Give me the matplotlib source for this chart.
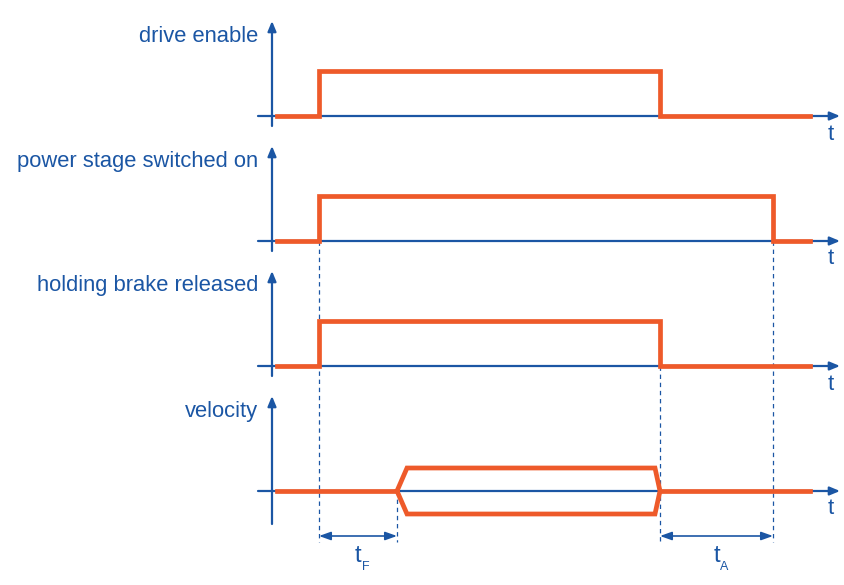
import matplotlib
matplotlib.use("Agg")
import matplotlib.pyplot as plt

ORANGE = "#EE5A2A"
BLUE = "#1B56A4"

# signal names and switching times (x in figure pixels)
labels = ["drive enable", "power stage switched on", "holding brake released", "velocity"]
baselines = [116, 241, 366, 491]
t_start, t_end = 277, 810
t_on = 319
t_off = [660, 773, 660]
t_vel = [397, 407, 655, 660]
vel_amp = 23
high = 45

# dimension markers: (from, to, label)
dims = [(319, 397, "F"), (660, 773, "A")]
guides = [(319, 241), (397, 491), (660, 366), (773, 241)]

plt.rcParams["font.family"] = ["Liberation Sans", "DejaVu Sans"]

fig = plt.figure(figsize=(8.44, 5.85), dpi=100)
ax = fig.add_axes([0, 0, 1, 1])
ax.set_xlim(0, 844)
ax.set_ylim(585, 0)
ax.axis("off")

line_kw = dict(color=ORANGE, lw=3.4, solid_joinstyle="miter", zorder=5)

for i, (name, y0) in enumerate(zip(labels, baselines)):
    # axes
    bottom = y0 + 33 if i == 3 else y0 + 10
    ax.annotate("", xy=(272, y0 - 95), xytext=(272, bottom),
                arrowprops=dict(arrowstyle="-|>,head_length=0.6,head_width=0.25",
                                color=BLUE, lw=1.6, shrinkA=0, shrinkB=0))
    ax.annotate("", xy=(840, y0), xytext=(258, y0),
                arrowprops=dict(arrowstyle="-|>,head_length=0.6,head_width=0.25",
                                color=BLUE, lw=1.6, shrinkA=0, shrinkB=0))
    ax.text(258, y0 - 80, name, ha="right", va="center", fontsize=15.8, color=BLUE)
    ax.text(831, y0 + 18, "t", ha="center", va="center", fontsize=16, color=BLUE)

    if i < 3:
        xs = [t_start, t_on, t_on, t_off[i], t_off[i], t_end]
        ys = [y0, y0, y0 - high, y0 - high, y0, y0]
        ax.plot(xs, ys, **line_kw)
    else:
        a, b, c, d = t_vel
        ax.plot([t_start, a], [y0, y0], **line_kw)
        ax.plot([a, b, c, d, c, b, a], [y0, y0 - vel_amp, y0 - vel_amp, y0,
                                         y0 + vel_amp, y0 + vel_amp, y0], **line_kw)
        ax.plot([d, t_end], [y0, y0], **line_kw)

for x, ytop in guides:
    ax.plot([x, x], [ytop, 542], color=BLUE, lw=0.9, ls=(0, (3.5, 3)), zorder=1)

for x0, x1, sub in dims:
    ax.annotate("", xy=(x1, 536), xytext=(x0, 536),
                arrowprops=dict(arrowstyle="<|-|>,head_length=0.7,head_width=0.25",
                                color=BLUE, lw=1.2, shrinkA=0, shrinkB=0))
    ax.text((x0 + x1) / 2, 556, "t", ha="center", va="center", fontsize=17, color=BLUE)
    ax.text((x0 + x1) / 2 + 8, 567, sub, ha="center", va="center", fontsize=9, color=BLUE)

fig.savefig("out.png", dpi=100)
